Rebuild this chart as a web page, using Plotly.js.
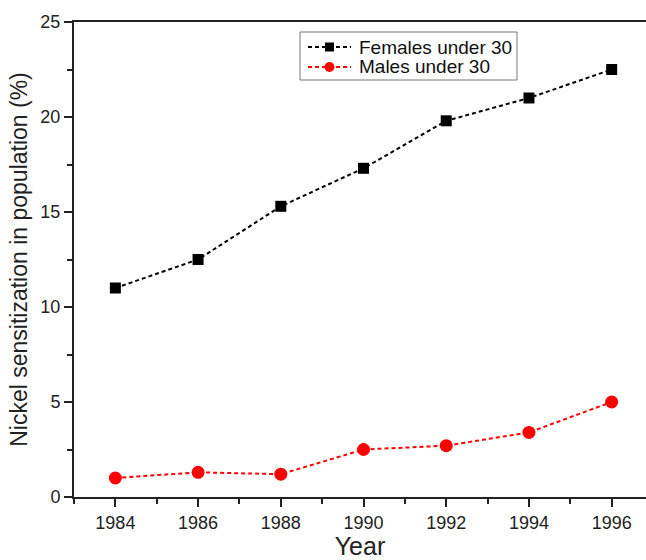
<!DOCTYPE html>
<html>
<head>
<meta charset="utf-8">
<script src="https://cdn.plot.ly/plotly-3.0.1.min.js"></script>
<style>html,body{margin:0;padding:0;background:#fff;}#chart{width:646px;height:560px;}</style>
</head>
<body>
<div id="chart"></div>
<script>
const years = [1984, 1986, 1988, 1990, 1992, 1994, 1996];
const females = [11.0, 12.5, 15.3, 17.3, 19.8, 21.0, 22.5];
const males = [1.0, 1.3, 1.2, 2.5, 2.7, 3.4, 5.0];
const seriesNames = ['Females under 30', 'Males under 30'];
const seriesColors = ['#000000', '#ff0000'];
const xTicks = [1984, 1986, 1988, 1990, 1992, 1994, 1996];
const yTicks = [0, 5, 10, 15, 20, 25];

const traces = [
  {x: years, y: females, name: seriesNames[0], mode: 'lines+markers', type: 'scatter',
   line: {color: seriesColors[0], width: 2, dash: '4px,3px'},
   marker: {symbol: 'square', size: 11, color: seriesColors[0]}},
  {x: years, y: males, name: seriesNames[1], mode: 'lines+markers', type: 'scatter',
   line: {color: seriesColors[1], width: 2, dash: '4px,3px'},
   marker: {symbol: 'circle', size: 13, color: seriesColors[1]}}
];

const font = {family: 'Liberation Sans, Arial, sans-serif', color: '#222'};
const M = {l: 74, r: 0, t: 22, b: 63};
const W = 646, H = 560;
const pw = W - M.l - M.r, ph = H - M.t - M.b;
const px = x => (x - M.l) / pw;        // page px -> paper x
const py = y => (H - M.b - y) / ph;    // page px -> paper y

// Legend (drawn by hand to match the compact original box)
const shapes = [
  {type: 'rect', xref: 'paper', yref: 'paper', x0: px(300), x1: px(517), y0: py(80), y1: py(32),
   line: {color: '#777', width: 1}, fillcolor: '#fff', layer: 'above'}
];
const annotations = [];
const rowY = [47, 67];
seriesNames.forEach((name, i) => {
  const y = rowY[i];
  shapes.push({type: 'line', xref: 'paper', yref: 'paper', x0: px(308), x1: px(351), y0: py(y), y1: py(y),
    line: {color: seriesColors[i], width: 2, dash: '4px,3px'}, layer: 'above'});
  if (i === 0) {
    shapes.push({type: 'rect', xref: 'paper', yref: 'paper', x0: px(325), x1: px(334), y0: py(y + 4.5), y1: py(y - 4.5),
      line: {width: 0}, fillcolor: seriesColors[i], layer: 'above'});
  } else {
    shapes.push({type: 'circle', xref: 'paper', yref: 'paper', x0: px(324.5), x1: px(334.5), y0: py(y + 5), y1: py(y - 5),
      line: {width: 0}, fillcolor: seriesColors[i], layer: 'above'});
  }
  annotations.push({xref: 'paper', yref: 'paper', x: px(357), y: py(y), xanchor: 'left', yanchor: 'middle',
    text: name, showarrow: false, font: {size: 19, family: font.family, color: '#111'}});
});

const layout = {
  width: W, height: H,
  margin: M,
  paper_bgcolor: '#fff', plot_bgcolor: '#fff',
  font: font,
  showlegend: false,
  shapes: shapes,
  annotations: annotations,
  xaxis: {
    range: [1983, 1996.83], tickvals: xTicks, ticktext: xTicks.map(String),
    showgrid: false, zeroline: false, showline: true, linecolor: '#222', linewidth: 2,
    mirror: true, ticks: 'outside', ticklen: 8, tickwidth: 2, tickcolor: '#222',
    tickfont: {size: 18, family: font.family, color: '#222'},
    minor: {tickvals: [1983, 1985, 1987, 1989, 1991, 1993, 1995], ticks: 'outside', ticklen: 5, tickwidth: 2, tickcolor: '#222', showgrid: false},
    title: {text: 'Year', font: {size: 25, family: font.family, color: '#222'}, standoff: 6}
  },
  yaxis: {
    range: [0, 25], tickvals: yTicks,
    showgrid: false, zeroline: false, showline: true, linecolor: '#222', linewidth: 2,
    ticks: 'outside', ticklen: 8, tickwidth: 2, tickcolor: '#222',
    tickfont: {size: 18, family: font.family, color: '#222'},
    minor: {tickvals: [2.5, 7.5, 12.5, 17.5, 22.5], ticks: 'outside', ticklen: 5, tickwidth: 2, tickcolor: '#222', showgrid: false},
    title: {text: 'Nickel sensitization in population (%)', font: {size: 23, family: font.family, color: '#222'}, standoff: 6}
  }
};

Plotly.newPlot('chart', traces, layout, {displayModeBar: false, staticPlot: true});
</script>
</body>
</html>
